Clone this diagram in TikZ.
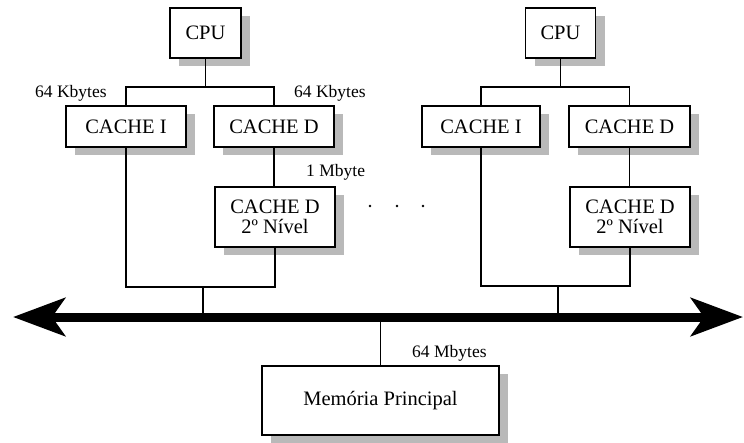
\documentclass[tikz,border=0pt]{standalone}
\usepackage{fontspec}
\setmainfont{Liberation Serif}
\usetikzlibrary{arrows.meta,shadows}
\begin{document}
\begin{tikzpicture}[x=1pt,y=-1pt,
  box/.style={draw=black, line width=1.7pt, fill=white, inner sep=0pt, align=center,
    font=\fontsize{20.5}{20}\selectfont,
    general shadow={fill=gray!55, shadow xshift=9pt, shadow yshift=-8pt}},
  lbl/.style={inner sep=0pt, anchor=base west, font=\fontsize{17.5}{18}\selectfont},
  wire/.style={line width=1.5pt},
  bus/.style={line width=9pt, {Stealth[length=52pt,width=38pt,inset=13pt]}-{Stealth[length=52pt,width=38pt,inset=13pt]}}
]
\useasboundingbox[fill=white] (0,0) rectangle (744,442);

% left group
\node[box, minimum width=71pt, minimum height=50pt] (cpuL) at (205.5,33) {CPU};
\node[box, minimum width=120pt, minimum height=41pt] (cacheIL) at (126,126.5) {CACHE I};
\node[box, minimum width=120pt, minimum height=41pt] (cacheDL) at (274,126.5) {CACHE D};
\node[box, minimum width=120pt, minimum height=60pt] (d2L) at (275,217) {CACHE D\\2º Nível};

% right group
\node[box, minimum width=70pt, minimum height=50pt] (cpuR) at (560.5,33) {CPU};
\node[box, minimum width=118pt, minimum height=41pt] (cacheIR) at (481,126.5) {CACHE I};
\node[box, minimum width=121pt, minimum height=41pt] (cacheDR) at (629.5,126.5) {CACHE D};
\node[box, minimum width=120pt, minimum height=60pt] (d2R) at (630,217) {CACHE D\\2º Nível};

% main memory
\node[box, minimum width=237pt, minimum height=69pt] (mem) at (380.5,400.5) {Memória Principal};

% labels
\node[lbl] (k1) at (35,97.5) {64 Kbytes};
\node[lbl] (k2) at (294,97.5) {64 Kbytes};
\node[lbl] (m1) at (306,176) {1 Mbyte};
\node[lbl] (m64) at (412,357) {64 Mbytes};

% bus
\coordinate (busL) at (13,317);
\coordinate (busR) at (743,317);
\draw[bus] (busL) -- (busR);

% left wiring
\coordinate (tL) at (205.5,87);
\draw[wire] (cpuL.south) -- (tL);
\draw[wire] (cacheIL.north) |- (tL) -| (cacheDL.north);
\draw[wire] (cacheDL.south) -- (d2L.north -| cacheDL.south);
\coordinate (bL) at (203,287);
\draw[wire] (cacheIL.south) |- (bL) -| (d2L.south);
\draw[wire] (bL) -- (bL |- busL);

% right wiring
\coordinate (tR) at (560.5,87);
\draw[wire] (cpuR.south) -- (tR);
\draw[wire] (cacheIR.north) |- (tR) -| (cacheDR.north);
\draw[wire] (cacheDR.south) -- (d2R.north -| cacheDR.south);
\coordinate (bR) at (558,286);
\draw[wire] (cacheIR.south) |- (bR) -| (d2R.south);
\draw[wire] (bR) -- (bR |- busL);

% memory stem
\draw[wire] (mem.north) -- (mem.north |- busL);

% dots
\foreach \x in {370,397,423} \fill (\x,206) circle (1.4pt);
\end{tikzpicture}
\end{document}
